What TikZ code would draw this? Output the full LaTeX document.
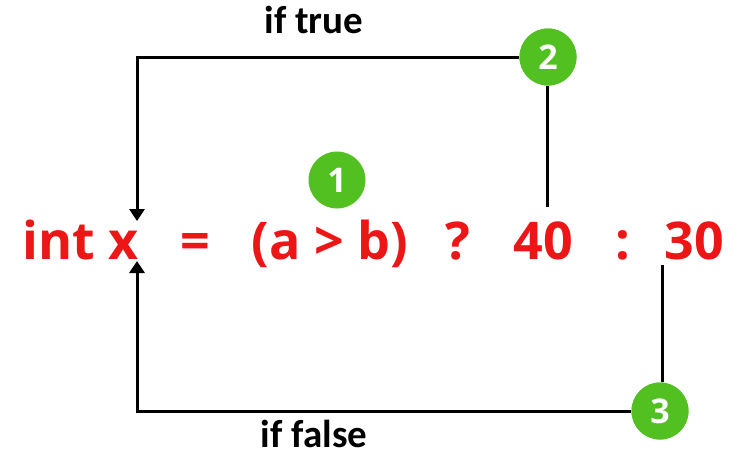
\documentclass[tikz,border=0pt]{standalone}
\usepackage{fontspec}
\setmainfont{Open Sans}
\newfontfamily\labelfont{Carlito}
\usetikzlibrary{arrows.meta}
\definecolor{codered}{RGB}{236,22,22}
\definecolor{badgegreen}{RGB}{82,192,32}
\tikzset{
  code/.style={text=codered, font=\bfseries\fontsize{52}{52}\selectfont, inner sep=0pt},
  badge/.style={circle, fill=badgegreen, minimum size=57pt, inner sep=0pt, text=white, font=\bfseries\fontsize{34}{34}\selectfont},
  lbl/.style={font=\labelfont\bfseries\fontsize{39}{39}\selectfont, inner sep=0pt},
  conn/.style={draw=black, line width=3pt},
  tip/.style={-{Triangle[length=12pt,width=15pt]}}
}
\begin{document}
\begin{tikzpicture}[x=1pt,y=-1pt]
\useasboundingbox (0,0) rectangle (738,459);
\fill[white] (0,0) rectangle (738,459);
% code line
\node[code, anchor=base west] (intx) at (22,259) {int x};
\node[code, anchor=base] (eq) at (195,259) {=};
\node[code, anchor=base] (cond) at (330,259) {(a > b)};
\node[code, anchor=base] (qm) at (458,259) {?};
\node[code, anchor=base] (forty) at (543,259) {40};
\node[code, anchor=base] (colon) at (623,259) {:};
\node[code, anchor=base] (thirty) at (694,259) {30};
% badges
\node[badge] (c1) at (337,180) {1};
\node[badge] (c2) at (548,57) {2};
\node[badge] (c3) at (660,411) {3};
% labels
\node[lbl, anchor=base] (iftrue) at (314,33) {if true};
\node[lbl, anchor=base] (iffalse) at (314,447) {if false};
% coordinates
\coordinate (tl) at (137,57);
\coordinate (xtop) at (137,221);
\coordinate (bl) at (137,411);
\coordinate (xbot) at (137,261);
\coordinate (fortytop) at (547,207);
\coordinate (thirtybot) at (662,265);
% connectors
\draw[conn, tip] (c2.west) -- (tl) -- (xtop);
\draw[conn] (c2.south -| fortytop) -- (fortytop);
\draw[conn] (thirtybot) -- (c3.north -| thirtybot);
\draw[conn, tip] (c3.west) -- (bl) -- (xbot);
\node[badge] at (c2) {2};
\node[badge] at (c3) {3};
\end{tikzpicture}
\end{document}
